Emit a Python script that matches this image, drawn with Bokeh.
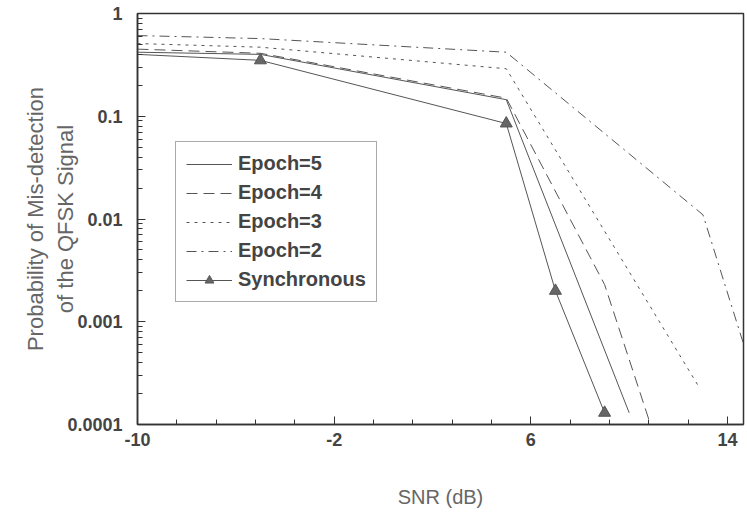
import numpy as np
from bokeh.plotting import figure
from bokeh.models import FixedTicker, PrintfTickFormatter, Legend, LegendItem, Range1d
from bokeh.embed import file_html
from bokeh.resources import INLINE

# ---- data ----
snr_e5 = [-10, -5, 5, 10]
pm_e5 = [0.42, 0.40, 0.145, 0.00013]

snr_e4 = [-10, -5, 5, 9, 11]
pm_e4 = [0.45, 0.41, 0.15, 0.0023, 0.00008]

snr_e3 = [-10, -5, 5, 12.8]
pm_e3 = [0.51, 0.47, 0.29, 0.00024]

snr_e2 = [-10, -5, 5, 13, 15]
pm_e2 = [0.61, 0.57, 0.42, 0.011, 0.00033]

snr_sync = [-10, -5, 5, 7, 9]
pm_sync = [0.40, 0.35, 0.085, 0.002, 0.00013]

x_major = [-10, -2, 6, 14]
y_major = [0.0001, 0.001, 0.01, 0.1, 1]

FONT = "Liberation Sans"
LINE = "#555555"
AX = "#333333"
TXT = "#444444"

p = figure(width=745, height=517, output_backend="svg", toolbar_location=None,
           y_axis_type="log",
           x_range=Range1d(-10, 14.65), y_range=Range1d(0.0001, 1),
           min_border_left=137, min_border_right=2, min_border_top=13,
           min_border_bottom=93)

p.grid.visible = False
p.outline_line_color = AX
p.outline_line_width = 1.5
p.background_fill_color = "white"
p.border_fill_color = "white"

# x ticks
x_minor = []
for a, b in zip(x_major[:-1], x_major[1:]):
    x_minor += list(np.linspace(a, b, 6)[1:-1])
p.xaxis.ticker = FixedTicker(ticks=x_major, minor_ticks=x_minor)
p.xaxis.formatter = PrintfTickFormatter(format="%d")
# y ticks
y_minor = [k * d for d in y_major[:-1] for k in range(2, 10)]
p.yaxis.ticker = FixedTicker(ticks=y_major, minor_ticks=y_minor)
p.yaxis.formatter = PrintfTickFormatter(format="%g")

for ax in (p.xaxis[0], p.yaxis[0]):
    ax.axis_line_color = AX
    ax.axis_line_width = 1.5
    ax.major_tick_in = 8
    ax.major_tick_out = 0
    ax.minor_tick_in = 5
    ax.minor_tick_out = 0
    ax.major_tick_line_color = AX
    ax.minor_tick_line_color = AX
    ax.major_label_text_font = FONT
    ax.major_label_text_font_style = "bold"
    ax.major_label_text_font_size = "18px"
    ax.major_label_text_color = TXT
    ax.axis_label_text_font = FONT
    ax.axis_label_text_font_style = "normal"
    ax.axis_label_text_color = "#666666"

p.xaxis.axis_label = "SNR (dB)"
p.xaxis.axis_label_text_font_size = "20px"
p.xaxis.major_label_standoff = 8
p.xaxis.axis_label_standoff = 37
p.yaxis.axis_label = "Probability of Mis-detection\nof the QFSK Signal"
p.yaxis.axis_label_text_font_size = "22px"
p.yaxis.major_label_standoff = 15
p.yaxis.axis_label_standoff = -14

r5 = p.line(snr_e5, pm_e5, line_color=LINE, line_width=1)
r4 = p.line(snr_e4, pm_e4, line_color=LINE, line_width=1, line_dash="11 6")
r3 = p.line(snr_e3, pm_e3, line_color=LINE, line_width=1, line_dash="3 5")
r2 = p.line(snr_e2, pm_e2, line_color=LINE, line_width=1, line_dash="10 5 2 5")
rs = p.line(snr_sync, pm_sync, line_color=LINE, line_width=1)
rsm = p.scatter(snr_sync[1:], pm_sync[1:], marker="triangle", size=12,
                fill_color="#666666", line_color="#555555")

legend = Legend(items=[
    LegendItem(label="Epoch=5", renderers=[r5]),
    LegendItem(label="Epoch=4", renderers=[r4]),
    LegendItem(label="Epoch=3", renderers=[r3]),
    LegendItem(label="Epoch=2", renderers=[r2]),
    LegendItem(label="Synchronous", renderers=[rs, rsm]),
], location=(38, 122))
legend.label_text_font = FONT
legend.label_text_font_style = "bold"
legend.label_text_font_size = "20px"
legend.label_text_color = TXT
legend.glyph_width = 46
legend.glyph_height = 22
legend.label_height = 22
legend.spacing = 6
legend.padding = 10
legend.margin = 0
legend.label_standoff = 6
legend.border_line_color = "#555555"
legend.border_line_width = 1.5
legend.background_fill_alpha = 1
p.add_layout(legend, "center")

open("out.html", "w").write(file_html(p, INLINE))
